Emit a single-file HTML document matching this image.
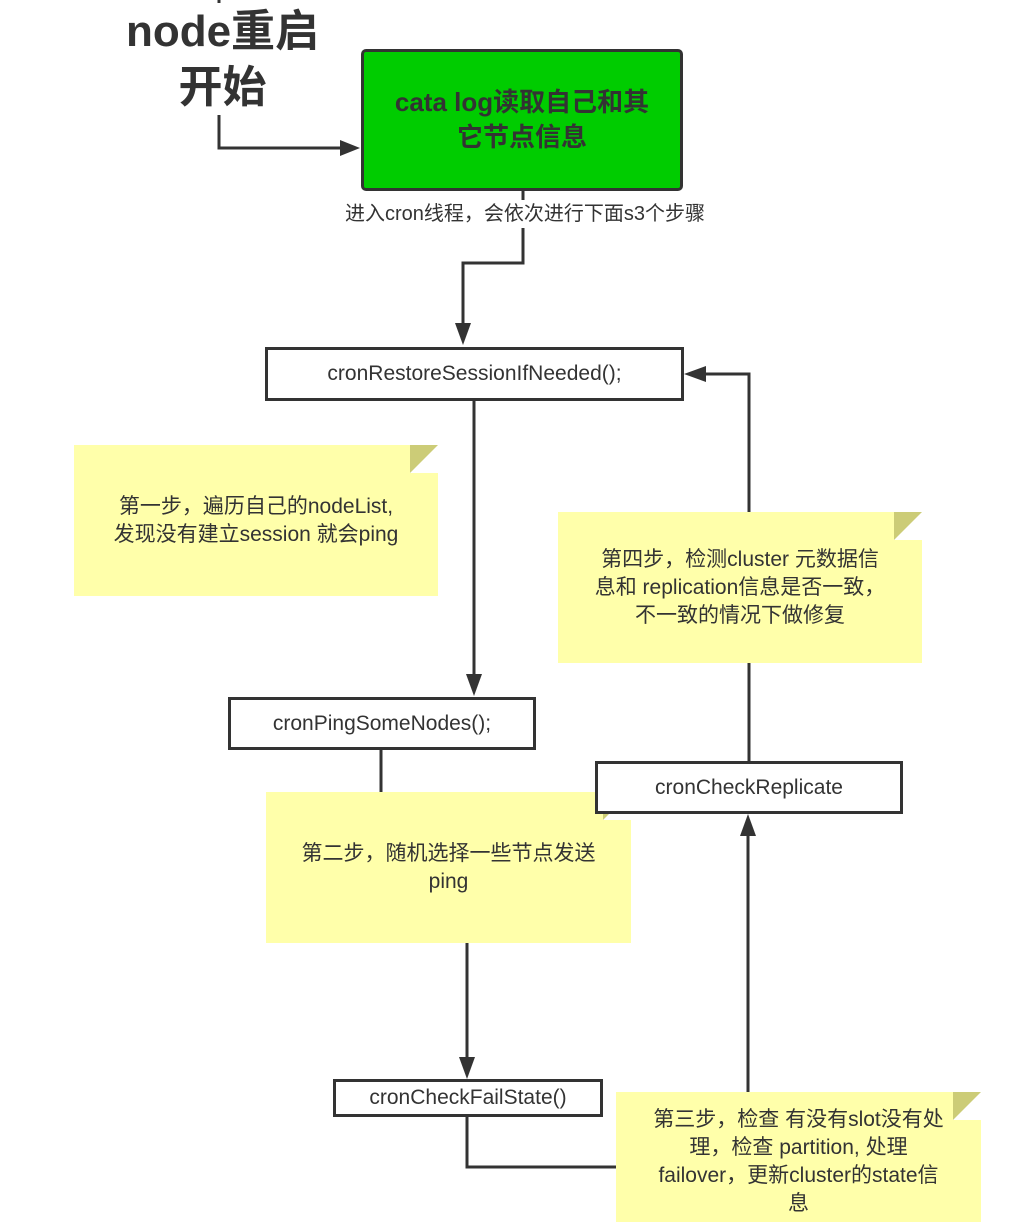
<!DOCTYPE html>
<html><head><meta charset="utf-8">
<style>
html,body{margin:0;padding:0;background:#fff;}
body{width:1010px;height:1222px;position:relative;overflow:hidden;font-family:"Liberation Sans","Noto Sans CJK SC",sans-serif;color:#333;}
.abs{position:absolute;}
.box{position:absolute;box-sizing:border-box;border:3px solid #333;background:#fff;display:flex;align-items:center;justify-content:center;font-size:21px;color:#333;}
.note{position:absolute;box-sizing:border-box;background:#ffffaa;display:flex;align-items:center;justify-content:center;text-align:center;font-size:21px;line-height:28px;color:#333;}
.note .c{position:absolute;right:0;top:0;width:0;height:0;border-style:solid;border-width:0 28px 28px 0;border-color:#fff #fff #cccc77 #cccc77;}
.note .c{border-width:28px 28px 0 0;border-color:#cccc77 #fff #cccc77 #cccc77;}
</style></head><body>
<svg class="abs" style="left:0;top:0" width="1010" height="1222">
<g stroke="#333" stroke-width="3" fill="none">
<polyline points="219,0 219,3"/>
<polyline points="219,115 219,148 345,148"/>
<polyline points="523,190 523,263 463,263 463,330"/>
<polyline points="474,400 474,680"/>
<polyline points="381,749 381,800"/>
<polyline points="467,942 467,1063"/>
<polyline points="467,1116 467,1167 620,1167"/>
<polyline points="748,1092 748,830"/>
<polyline points="749,762 749,650"/>
<polyline points="749,520 749,374 700,374"/>
</g>
<g fill="#333">
<polygon points="360,148 340,140 340,156"/>
<polygon points="463,345 455,323 471,323"/>
<polygon points="474,696 466,674 482,674"/>
<polygon points="467,1079 459,1057 475,1057"/>
<polygon points="748,814 740,836 756,836"/>
<polygon points="684,374 706,366 706,382"/>
</g>
</svg>
<div class="abs" style="left:100px;top:4px;width:245px;text-align:center;font-weight:bold;font-size:44px;line-height:56px;color:#333;">node重启<br>开始</div>
<div class="abs" style="left:361px;top:49px;width:322px;height:142px;box-sizing:border-box;border:3px solid #333;border-radius:5px;background:#00cc00;display:flex;align-items:center;justify-content:center;text-align:center;font-weight:bold;font-size:26px;line-height:35px;color:#333;">cata log读取自己和其<br>它节点信息</div>
<div class="abs" style="left:300px;top:200px;width:450px;text-align:center;font-size:20px;line-height:28px;background:#fff;">进入cron线程，会依次进行下面s3个步骤</div>
<div class="box" style="left:265px;top:347px;width:419px;height:54px;">cronRestoreSessionIfNeeded();</div>
<div class="note" style="left:74px;top:445px;width:364px;height:151px;"><div class="c"></div>第一步，遍历自己的nodeList,<br>发现没有建立session 就会ping</div>
<div class="box" style="left:228px;top:697px;width:308px;height:53px;">cronPingSomeNodes();</div>
<div class="note" style="left:266px;top:792px;width:365px;height:151px;"><div class="c"></div>第二步，随机选择一些节点发送<br>ping</div>
<div class="box" style="left:333px;top:1079px;width:270px;height:38px;">cronCheckFailState()</div>
<div class="note" style="left:616px;top:1092px;width:365px;height:130px;padding-top:10px;"><div class="c"></div>第三步，检查 有没有slot没有处<br>理，检查 partition, 处理<br>failover，更新cluster的state信<br>息</div>
<div class="box" style="left:595px;top:761px;width:308px;height:53px;">cronCheckReplicate</div>
<div class="note" style="left:558px;top:512px;width:364px;height:151px;"><div class="c"></div>第四步，检测cluster 元数据信<br>息和 replication信息是否一致，<br>不一致的情况下做修复</div>
</body></html>
